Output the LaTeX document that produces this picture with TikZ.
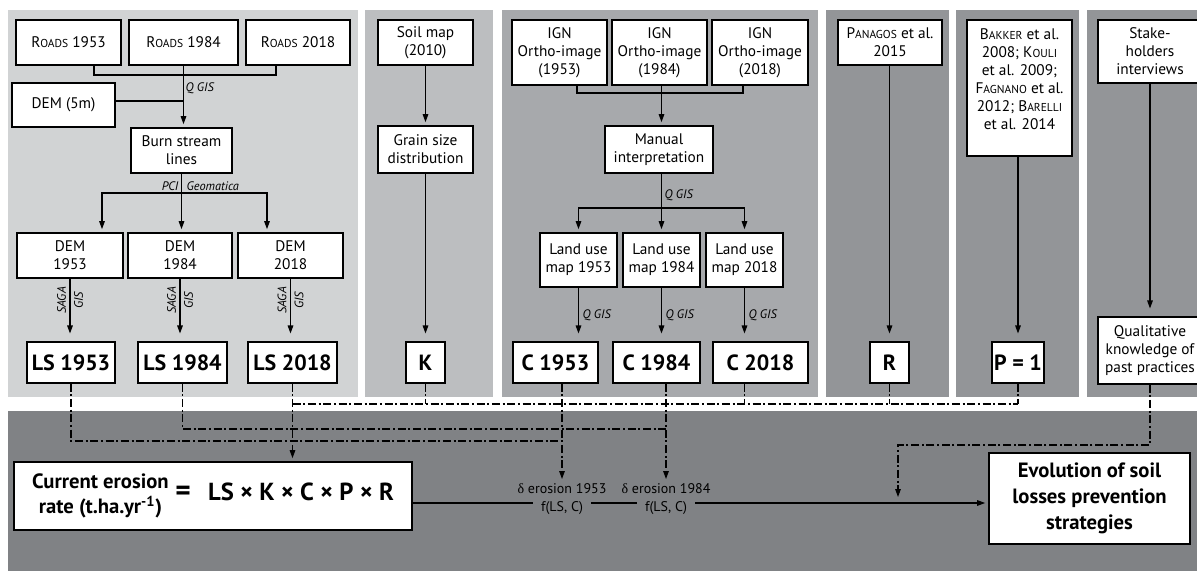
\documentclass[tikz,border=0pt]{standalone}
\usepackage{fontspec}
\setmainfont{PT Sans}
\newfontfamily\grk{Liberation Serif}
\usetikzlibrary{arrows.meta}
\definecolor{pa}{HTML}{D1D3D4}
\definecolor{pb}{HTML}{BCBEC0}
\definecolor{pc}{HTML}{A7A9AC}
\definecolor{pd}{HTML}{939598}
\definecolor{pe}{HTML}{808285}
\newcommand\smc[1]{{\fontsize{8.6}{10}\selectfont #1}}
\newcommand\bx[7][]{\node[box,#1,minimum width={(#5-#3)*0.75pt},minimum height={(#6-#4)*0.75pt}] (#2) at ({(#3+#5)/2},{(#4+#6)/2}) {#7};}
\tikzset{
  box/.style={draw, line width=0.8pt, fill=white, align=center, inner sep=1pt,
    font=\fontsize{11.5}{13.5}\selectfont},
  big/.style={font=\fontsize{16.5}{18}\selectfont\bfseries},
  evof/.style={font=\fontsize{15.5}{19.5}\selectfont\bfseries},
  ln/.style={line width=0.8pt},
  arr/.style={line width=0.8pt, -{Triangle[length=6pt,width=4.2pt]}, shorten >=2.5pt},
  arrb/.style={arr, shorten >=6pt},
  dd/.style={line width=0.8pt, dash pattern=on 6pt off 2pt on 1.5pt off 2pt},
  lab/.style={font=\fontsize{9.25}{12.75}\selectfont\itshape, inner sep=1pt},
  dlab/.style={font=\fontsize{10.5}{12}\selectfont, inner sep=1pt},
}
\begin{document}
\begin{tikzpicture}[x=0.75pt,y=-0.75pt]
\clip (0,0) rectangle (1197,571);
\fill[white] (0,0) rectangle (1197,571);
% panels
\fill[pa] (8,10) rectangle (358,397);
\fill[pb] (365,10) rectangle (493,397);
\fill[pc] (502,10) rectangle (818,397);
\fill[pd] (826,10) rectangle (949,397);
\fill[pd] (956,10) rectangle (1079,397);
\fill[pd] (1087,10) rectangle (1215,397);
\fill[pe] (8,411) rectangle (1215,590);

% ---------- panel 1
\bx{r53}{16}{20}{121}{65}{R\smc{OADS} 1953}
\bx{r84}{129}{20}{238}{65}{R\smc{OADS} 1984}
\bx{r18}{246}{20}{350}{65}{R\smc{OADS} 2018}
\bx{dem}{12}{83}{115}{127}{DEM (5m)}
\bx{burn}{131}{128}{232}{173}{Burn stream\\lines}
\bx{d53}{17}{233}{123}{278}{DEM\\1953}
\bx{d84}{128}{233}{232}{278}{DEM\\1984}
\bx{d18}{238}{233}{343}{278}{DEM\\2018}
\bx[big]{ls53}{27}{342}{115}{383}{LS 1953}
\bx[big]{ls84}{138}{342}{227}{383}{LS 1984}
\bx[big]{ls18}{248}{342}{337}{383}{LS 2018}

\coordinate (rb1) at (94,75);
\coordinate (rb3) at (276,75);
\draw[ln] (r53.south -| rb1) |- (rb3) -- (r18.south -| rb3);
\draw[arr] (r84.south) -- (r84.south |- burn.north);
\draw[ln] (dem.east |- 0,101) -- (r84.south |- 0,101);
\node[lab,anchor=west] (q1) at (184,88) {Q GIS};

\coordinate (b1) at (102,193);
\coordinate (b3) at (267,193);
\draw[arr] (burn.south) |- (b1) -- (b1 |- d53.north);
\draw[arr] (burn.south) |- (b3) -- (b3 |- d18.north);
\draw[arr] (burn.south) -- (burn.south |- d84.north);
\node[lab,anchor=east] (pci) at (180,186) {PCI};
\node[lab,anchor=west] (geo) at (185,186) {Geomatica};

\draw[arrb] (d53.south) -- node[lab,pos=0.35,rotate=90,align=center] (sg1) {SAGA\\GIS} (d53.south |- ls53.north);
\draw[arrb] (d84.south) -- node[lab,pos=0.35,rotate=90,align=center] (sg2) {SAGA\\GIS} (d84.south |- ls84.north);
\draw[arrb] (d18.south) -- node[lab,pos=0.35,rotate=90,align=center] (sg3) {SAGA\\GIS} (d18.south |- ls18.north);

% ---------- panel 2
\bx{soil}{378}{20}{473}{65}{Soil map\\(2010)}
\bx{grain}{378}{126}{473}{173}{Grain size\\distribution}
\bx[big]{k}{406}{342}{445}{383}{K}
\draw[arr] (soil) -- (grain);
\draw[arrb] (grain) -- (k);

% ---------- panel 3
\bx{ign53}{512}{20}{607}{85}{IGN\\Ortho-image\\(1953)}
\bx{ign84}{612}{20}{707}{85}{IGN\\Ortho-image\\(1984)}
\bx{ign18}{712}{20}{808}{85}{IGN\\Ortho-image\\(2018)}
\bx{man}{605}{126}{713}{173}{Manual\\interpretation}
\bx{lu53}{540}{233}{617}{287}{Land use\\map 1953}
\bx{lu84}{623}{233}{700}{287}{Land use\\map 1984}
\bx{lu18}{706}{233}{783}{287}{Land use\\map 2018}
\bx[big]{c53}{513}{342}{598}{383}{C 1953}
\bx[big]{c84}{613}{342}{700}{383}{C 1984}
\bx[big]{c18}{713}{342}{808}{383}{C 2018}

\coordinate (ib1) at (577,93);
\coordinate (ib3) at (743,93);
\draw[ln] (ign53.south -| ib1) |- (ib3) -- (ign18.south -| ib3);
\draw[arr] (ign84.south -| lu84) -- (lu84 |- man.north);
\coordinate (mb) at (0,208);
\draw[arr] (man.south -| lu84) |- (lu53 |- mb) -- (lu53.north);
\draw[arr] (man.south -| lu84) |- (lu18 |- mb) -- (lu18.north);
\draw[arr] (man.south -| lu84) -- (lu84.north);
\node[lab,anchor=west] (q2) at (663,195) {Q GIS};
\draw[arrb] (lu53.south) -- (lu53.south |- c53.north);
\draw[arrb] (lu84.south) -- (lu84.south |- c84.north);
\draw[arrb] (lu18.south) -- (lu18.south |- c18.north);
\node[lab,anchor=west] (q3) at (581,315) {Q GIS};
\node[lab,anchor=west] (q4) at (664,315) {Q GIS};
\node[lab,anchor=west] (q5) at (747,315) {Q GIS};

% ---------- panel 4,5,6
\bx{pan}{838}{20}{942}{65}{P\smc{ANAGOS} et al.\\2015}
\bx[big]{r}{870}{342}{909}{383}{R}
\draw[arrb] (pan.south -| r) -- (r.north);
\bx{bak}{967}{20}{1072}{156}{B\smc{AKKER} et al.\\2008; K\smc{OULI}\\et al. 2009;\\F\smc{AGNANO} et al.\\2012; B\smc{ARELLI}\\et al. 2014\\\mbox{}}
\bx[big]{p1}{992}{342}{1044}{383}{P = 1}
\draw[arrb] (bak.south -| p1) -- (p1.north);
\bx{stk}{1098}{20}{1202}{83}{Stake-\\holders\\interviews}
\bx{qual}{1098}{317}{1202}{384}{Qualitative\\knowledge of\\past practices}
\draw[arrb] (stk) -- (qual);

% ---------- bottom band
\bx{cur}{14}{462}{412}{530}{{\fontsize{15.5}{18.75}\selectfont\bfseries\begin{tabular}{@{}c@{}}Current erosion\\rate (t.ha.yr\textsuperscript{-1})\end{tabular}}\hspace{5pt}{\fontsize{22}{24}\selectfont\bfseries =}\hspace{13pt}{\fontsize{18.5}{20}\selectfont\bfseries LS × K × C × P × R}}
\bx[evof]{evo}{989}{453}{1190}{544}{Evolution of soil\\losses prevention\\strategies}

\node[dlab] (e1) at (562,489) {{\grk δ} erosion 1953};
\node[dlab,inner xsep=6pt] (d1) at (562,508) {f(LS, C)};
\node[dlab] (e2) at (666,489) {{\grk δ} erosion 1984};
\node[dlab,inner xsep=6pt] (d2) at (666,508) {f(LS, C)};

\coordinate (ml) at (0,503);
\draw[ln] (cur.east |- ml) -- (d1.west |- ml);
\draw[ln] (d1.east |- ml) -- (d2.west |- ml);
\draw[arr] (d2.east |- ml) -- (evo.west |- ml);

% dashed connectors
\coordinate (bus) at (0,404);
\coordinate (j1) at (562,441);
\coordinate (j2) at (666,429);
\coordinate (sk) at (898,445);
\draw[dd] (ls53.south) |- (j1);
\draw[dd] (ls84.south) |- (j2);
\draw[dd,arr] (c53.south -| e1) -- (e1.north);
\draw[dd,arr] (c84.south -| e2) -- (e2.north);
\draw[dd,arr] (ls18.south) -- (ls18.south |- cur.north);
\draw[dd] (ls18.south |- bus) -- (p1.south |- bus);
\draw[dd] (k.south) -- (k.south |- bus);
\draw[dd] (c18.south -| lu18) -- (lu18 |- bus);
\draw[dd] (r.south) -- (r.south |- bus);
\draw[dd] (p1.south) -- (p1.south |- bus);
\draw[dd,arr,shorten >=4.5pt] (qual.south -| stk) |- (sk) -- (sk |- ml);
\end{tikzpicture}
\end{document}
